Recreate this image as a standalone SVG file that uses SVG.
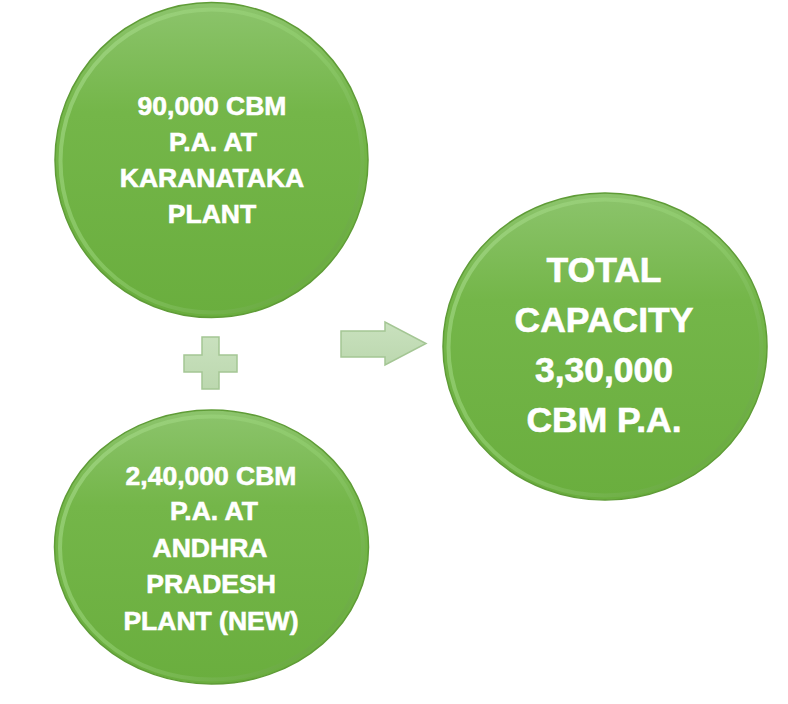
<svg xmlns="http://www.w3.org/2000/svg" width="788" height="704" viewBox="0 0 788 704">
<defs>
<linearGradient id="gFill" x1="0" y1="0" x2="0" y2="1">
<stop offset="0" stop-color="#8cc46c"/>
<stop offset="0.35" stop-color="#74b649"/>
<stop offset="1" stop-color="#6aae3e"/>
</linearGradient>
<linearGradient id="gRim" x1="0" y1="0" x2="1" y2="1">
<stop offset="0" stop-color="#a6d98a"/>
<stop offset="0.5" stop-color="#8fcc6c"/>
<stop offset="1" stop-color="#5e9c36"/>
</linearGradient>
<linearGradient id="gShape" x1="0" y1="0" x2="0" y2="1">
<stop offset="0" stop-color="#c9e1be"/>
<stop offset="1" stop-color="#bcd8af"/>
</linearGradient>
<style>
.disc{fill:url(#gFill);stroke:#5f9c37;stroke-width:1.5}
.rim{fill:none;stroke:url(#gRim);stroke-width:4;opacity:0.7}
.lbl{font-family:"Liberation Sans",Arial,sans-serif;font-weight:bold;fill:#ffffff;stroke:#ffffff;stroke-width:0.6;text-anchor:middle}
.shape{fill:url(#gShape);stroke:#a4c694;stroke-width:1.5}
</style>
</defs>
<g id="node-karnataka">
<ellipse class="disc" cx="211.5" cy="160" rx="156.5" ry="157.5"/>
<ellipse class="rim" cx="211.5" cy="161" rx="151" ry="151.5"/>
<text class="lbl" font-size="26.5"><tspan x="212" y="115">90,000 CBM</tspan><tspan x="213" y="151">P.A. AT</tspan><tspan x="212" y="187">KARANATAKA</tspan><tspan x="212" y="223">PLANT</tspan></text>
</g>
<g id="node-andhra">
<ellipse class="disc" cx="211.5" cy="547" rx="157" ry="137"/>
<ellipse class="rim" cx="211.5" cy="548" rx="151.5" ry="131.5"/>
<text class="lbl" font-size="26.5"><tspan x="211" y="485">2,40,000 CBM</tspan><tspan x="214" y="520">P.A. AT</tspan><tspan x="210" y="557">ANDHRA</tspan><tspan x="211" y="593">PRADESH</tspan><tspan x="211" y="630">PLANT (NEW)</tspan></text>
</g>
<g id="node-total">
<ellipse class="disc" cx="605" cy="346.5" rx="162" ry="153.5"/>
<ellipse class="rim" cx="605" cy="347.5" rx="156.5" ry="148"/>
<text class="lbl" font-size="35.5"><tspan x="604" y="282">TOTAL</tspan><tspan x="604" y="332">CAPACITY</tspan><tspan x="604" y="382">3,30,000</tspan><tspan x="604" y="432">CBM P.A.</tspan></text>
</g>
<g id="connectors">
<path id="plus" class="shape" d="M202,337 H219 V355 H237 V372 H219 V389 H202 V372 H184 V355 H202 Z"/>
<path id="arrow" class="shape" d="M341,331 H385 V322 L426,343.5 L385,365 V357 H341 Z"/>
</g>
</svg>
